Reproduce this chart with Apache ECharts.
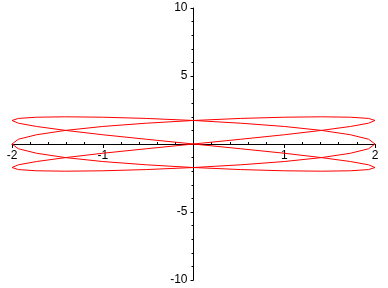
<!DOCTYPE html>
<html>
<head>
<meta charset="utf-8">
<script src="https://cdn.jsdelivr.net/npm/echarts@6/dist/echarts.min.js"></script>
<style>html,body{margin:0;padding:0;background:#fff}#c{width:388px;height:288px}</style>
</head>
<body>
<div id="c"></div>
<script>
var xTicks = [-2, -1, 1, 2];
var yTicks = [-10, -5, 5, 10];
var xs = [2, 1.93, 1.73, 1.41, 1, 0.52, 0, -0.52, -1, -1.41, -1.73, -1.93, -2, -1.93, -1.73, -1.41, -1, -0.52, 0, 0.52, 1, 1.41, 1.73, 1.93,
          2, 1.93, 1.73, 1.41, 1, 0.52, 0, -0.52, -1, -1.41, -1.73, -1.93, -2, -1.93, -1.73, -1.41, -1, -0.52, 0, 0.52, 1, 1.41, 1.73, 1.93,
          2, 1.93, 1.73, 1.41, 1, 0.52, 0, -0.52, -1, -1.41, -1.73, -1.93, -2, -1.93, -1.73, -1.41, -1, -0.52, 0, 0.52, 1, 1.41, 1.73, 1.93,
          2];
var ys = [0, 0.35, 0.68, 1, 1.29, 1.53, 1.73, 1.88, 1.97, 2, 1.97, 1.88, 1.73, 1.53, 1.29, 1, 0.68, 0.35,
          0, -0.35, -0.68, -1, -1.29, -1.53, -1.73, -1.88, -1.97, -2, -1.97, -1.88, -1.73, -1.53, -1.29, -1, -0.68, -0.35,
          0, 0.35, 0.68, 1, 1.29, 1.53, 1.73, 1.88, 1.97, 2, 1.97, 1.88, 1.73, 1.53, 1.29, 1, 0.68, 0.35,
          0, -0.35, -0.68, -1, -1.29, -1.53, -1.73, -1.88, -1.97, -2, -1.97, -1.88, -1.73, -1.53, -1.29, -1, -0.68, -0.35,
          0];
var curve = xs.map(function (x, i) { return [x, ys[i]]; });

var W = 388, H = 288, GL = 12, GR = 13, GT = 8, GB = 8;
var halfW = (W - GL - GR) / 2, halfH = (H - GT - GB) / 2;
var font = {fontFamily: 'Liberation Sans', fontSize: 12, color: '#000'};
var chart = echarts.init(document.getElementById('c'), null, {renderer: 'canvas'});
chart.setOption({
  animation: false,
  backgroundColor: '#fff',
  grid: {left: GL, right: GR, top: GT, bottom: GB, containLabel: false, outerBoundsMode: 'none'},
  xAxis: [{
    type: 'value', min: -2, max: 2, interval: 1, position: 'bottom', offset: -halfH,
    axisLine: {onZero: false, lineStyle: {color: '#000', width: 1}},
    axisTick: {show: true, length: 4, lineStyle: {color: '#000'}},
    minorTick: {show: false},
    splitLine: {show: false},
    axisLabel: Object.assign({margin: 6, formatter: function (v) { return xTicks.indexOf(v) >= 0 ? String(v) : ''; }, showMinLabel: true, showMaxLabel: true}, font)
  }, {
    type: 'value', min: -2, max: 2, interval: 1, position: 'top', offset: -halfH,
    axisLine: {show: false, onZero: false},
    axisTick: {show: false},
    minorTick: {show: true, splitNumber: 5, length: 2, lineStyle: {color: '#000'}},
    splitLine: {show: false},
    axisLabel: {show: false}
  }],
  yAxis: {
    type: 'value', min: -10, max: 10, interval: 5, position: 'left', offset: -halfW,
    axisLine: {onZero: false, lineStyle: {color: '#000', width: 1}},
    axisTick: {show: true, length: 3, lineStyle: {color: '#000'}},
    minorTick: {show: true, splitNumber: 5, length: 2, lineStyle: {color: '#000'}},
    splitLine: {show: false},
    axisLabel: Object.assign({margin: 6, formatter: function (v) { return yTicks.indexOf(v) >= 0 ? String(v) : ''; }, showMinLabel: true, showMaxLabel: true}, font)
  },
  series: [{
    type: 'line', data: curve, xAxisIndex: 0, yAxisIndex: 0,
    showSymbol: false, smooth: false, z: 1,
    lineStyle: {color: '#ff0000', width: 1}
  }]
});
</script>
</body>
</html>
